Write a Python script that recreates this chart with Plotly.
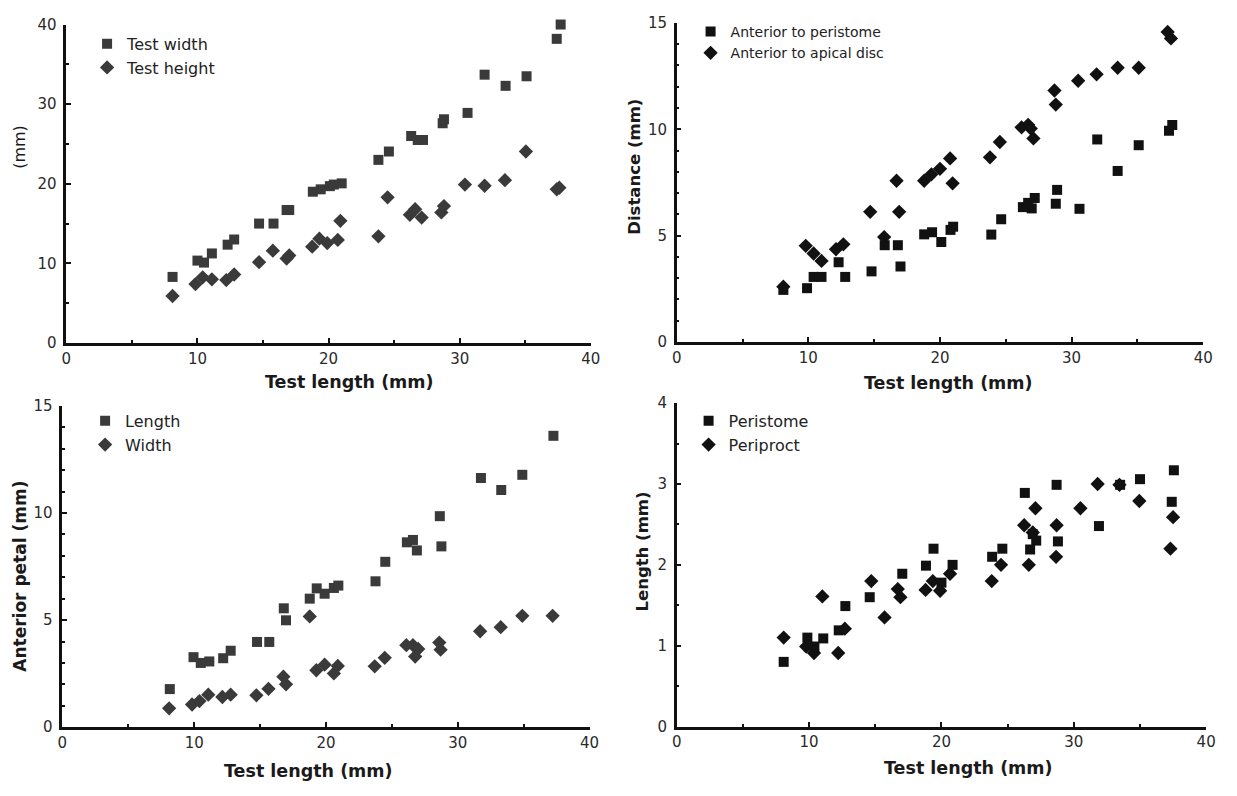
import plotly.graph_objects as go

# ---------------- data ----------------
# Panel A: test width / test height vs test length
tw_x = [8.1, 10.0, 10.5, 11.1, 12.3, 12.8, 14.7, 15.8, 16.8, 17.0, 18.8, 19.4, 20.1, 20.4, 21.0,
        23.8, 24.6, 26.3, 26.8, 27.2, 28.7, 28.8, 30.6, 31.9, 33.5, 35.1, 37.4, 37.7]
tw_y = [8.3, 10.35, 10.1, 11.25, 12.35, 13.0, 15.0, 15.0, 16.7, 16.7, 19.0, 19.3, 19.7, 19.9, 20.05,
        23.0, 24.05, 26.0, 25.5, 25.5, 27.6, 28.1, 28.9, 33.7, 32.3, 33.5, 38.2, 40.0]
th_x = [8.1, 9.85, 10.4, 11.1, 12.2, 12.8, 14.7, 15.75, 16.8, 17.0, 18.75, 19.3, 19.9, 20.7, 20.9,
        23.8, 24.5, 26.2, 26.6, 27.1, 28.6, 28.8, 30.4, 31.9, 33.45, 35.05, 37.4, 37.6]
th_y = [5.9, 7.4, 8.25, 8.0, 7.9, 8.6, 10.15, 11.6, 10.6, 11.0, 12.1, 13.1, 12.55, 12.95, 15.35,
        13.4, 18.3, 16.1, 16.8, 15.75, 16.4, 17.2, 19.9, 19.75, 20.45, 24.05, 19.3, 19.5]

# Panel B: distances
ap_x = [8.1, 9.9, 10.4, 11.0, 12.3, 12.8, 14.8, 15.8, 16.8, 17.0, 18.8, 19.4, 20.1, 20.8, 21.0,
        23.9, 24.65, 26.3, 26.7, 26.97, 27.2, 28.8, 28.9, 30.6, 31.95, 33.5, 35.1, 37.4, 37.65]
ap_y = [2.45, 2.53, 3.06, 3.06, 3.75, 3.06, 3.32, 4.55, 4.55, 3.55, 5.06, 5.16, 4.7, 5.27, 5.42,
        5.05, 5.77, 6.34, 6.54, 6.28, 6.77, 6.5, 7.15, 6.26, 9.52, 8.04, 9.25, 9.93, 10.2]
ad_x = [8.1, 9.8, 10.4, 11.0, 12.1, 12.66, 14.7, 15.76, 16.7, 16.9, 18.8, 19.35, 20.0, 20.77, 20.96,
        23.8, 24.55, 26.2, 26.7, 26.9, 27.1, 28.7, 28.8, 30.5, 31.9, 33.5, 35.1, 37.3, 37.55]
ad_y = [2.6, 4.52, 4.16, 3.81, 4.36, 4.59, 6.12, 4.93, 7.58, 6.12, 7.58, 7.88, 8.14, 8.63, 7.46,
        8.68, 9.4, 10.09, 10.21, 10.03, 9.57, 11.82, 11.16, 12.28, 12.58, 12.89, 12.89, 14.57, 14.27]

# Panel C: anterior petal
pl_x = [8.15, 9.95, 10.5, 11.15, 12.2, 12.77, 14.77, 15.7, 16.8, 16.97, 18.77, 19.3, 19.9, 20.6, 20.94,
        23.76, 24.5, 26.14, 26.6, 26.9, 28.64, 28.76, 31.76, 33.3, 34.9, 37.26]
pl_y = [1.78, 3.27, 3.0, 3.07, 3.22, 3.57, 3.98, 3.98, 5.55, 4.99, 6.0, 6.48, 6.23, 6.5, 6.61,
        6.81, 7.72, 8.63, 8.74, 8.25, 9.85, 8.44, 11.63, 11.07, 11.78, 13.6]
pw_x = [8.1, 9.84, 10.4, 11.07, 12.14, 12.77, 14.72, 15.64, 16.77, 16.97, 18.77, 19.27, 19.9, 20.6, 20.9,
        23.7, 24.46, 26.1, 26.6, 26.77, 27.0, 28.6, 28.7, 31.7, 33.26, 34.9, 37.2]
pw_y = [0.88, 1.06, 1.22, 1.52, 1.41, 1.52, 1.49, 1.79, 2.36, 2.0, 5.17, 2.66, 2.92, 2.51, 2.86,
        2.84, 3.24, 3.83, 3.83, 3.3, 3.65, 3.95, 3.62, 4.48, 4.67, 5.2, 5.2]

# Panel D: peristome / periproct length
ps_x = [8.08, 9.87, 10.4, 11.07, 12.24, 12.74, 14.58, 17.04, 18.83, 19.4, 20.0, 20.84, 23.83, 24.6,
        26.3, 26.7, 26.9, 27.16, 28.7, 28.8, 31.9, 33.5, 35.0, 37.4, 37.56]
ps_y = [0.80, 1.10, 0.99, 1.09, 1.19, 1.49, 1.6, 1.89, 1.99, 2.2, 1.78, 2.0, 2.1, 2.2,
        2.89, 2.19, 2.38, 2.3, 2.99, 2.29, 2.48, 2.99, 3.06, 2.78, 3.17]
pp_x = [8.08, 9.78, 10.37, 11.0, 12.2, 12.7, 14.7, 15.7, 16.7, 16.9, 18.8, 19.35, 19.9, 20.65, 23.8,
        24.5, 26.25, 26.6, 26.9, 27.1, 28.66, 28.7, 30.5, 31.8, 33.45, 34.95, 37.3, 37.5]
pp_y = [1.1, 0.99, 0.91, 1.61, 0.91, 1.21, 1.8, 1.35, 1.7, 1.6, 1.69, 1.8, 1.68, 1.89, 1.8,
        2.0, 2.49, 2.0, 2.4, 2.7, 2.1, 2.49, 2.7, 3.0, 2.99, 2.79, 2.2, 2.59]

x_title = "Test length (mm)"

# ---------------- figure ----------------
# The page body keeps its default 8px margin, so the figure is sized to fill
# the 1237x796 window exactly once that margin is added.
PAGE_W, PAGE_H, OFF = 1237, 796, 8
W, H = PAGE_W - 2 * OFF, PAGE_H - 2 * OFF
FONT = "DejaVu Sans"
GRAY = "#3a3a3a"
BLACK = "#111111"

fig = go.Figure()

def add(x, y, name, symbol, color, ax, leg):
    fig.add_trace(go.Scatter(
        x=x, y=y, mode="markers", name=name, cliponaxis=False,
        marker=dict(symbol=symbol, size=10 if symbol == "square" else 11, color=color,
                    line=dict(width=0)),
        xaxis="x" + ax, yaxis="y" + ax, legend=leg, showlegend=True))

add(tw_x, tw_y, "Test width", "square", GRAY, "", "legend")
add(th_x, th_y, "Test height", "diamond", GRAY, "", "legend")
add(ap_x, ap_y, "Anterior to peristome", "square", BLACK, "2", "legend2")
add(ad_x, ad_y, "Anterior to apical disc", "diamond", BLACK, "2", "legend2")
add(pl_x, pl_y, "Length", "square", GRAY, "3", "legend3")
add(pw_x, pw_y, "Width", "diamond", GRAY, "3", "legend3")
add(ps_x, ps_y, "Peristome", "square", BLACK, "4", "legend4")
add(pp_x, pp_y, "Periproct", "diamond", BLACK, "4", "legend4")

# page pixel -> paper fraction
def px(v):
    return (v - OFF) / W

def py(v):
    return 1 - (v - OFF) / H

tickfont = dict(family=FONT, size=15, color="#2a2a2a")

def xaxis(dom, anchor):
    return dict(domain=dom, anchor=anchor, range=[0, 40], tickvals=[0, 10, 20, 30, 40],
                showline=True, linewidth=2.5, linecolor="#111", mirror=False,
                ticks="inside", ticklen=5, tickwidth=2, tickcolor="#111",
                minor=dict(dtick=5, ticks="inside", ticklen=3, tickwidth=2, tickcolor="#111"),
                showgrid=False, zeroline=False, tickfont=tickfont, ticklabelstandoff=0,
                fixedrange=True)

def yaxis(dom, anchor, rng, dtick, mdtick):
    return dict(domain=dom, anchor=anchor, range=rng, dtick=dtick, tick0=0,
                showline=True, linewidth=2.5, linecolor="#111",
                ticks="inside", ticklen=5, tickwidth=2, tickcolor="#111",
                minor=dict(dtick=mdtick, ticks="inside", ticklen=3, tickwidth=2, tickcolor="#111"),
                showgrid=False, zeroline=False, tickfont=tickfont, ticklabelstandoff=4,
                fixedrange=True)

layout = dict(
    width=W, height=H, margin=dict(l=0, r=0, t=0, b=0),
    paper_bgcolor="white", plot_bgcolor="white",
    font=dict(family=FONT, color="#222"),
    xaxis=xaxis([px(62), px(593)], "y"),
    yaxis=yaxis([py(341.7), py(15.7)], "x", [0, 40], 10, 5),
    xaxis2=xaxis([px(680), px(1213)], "y2"),
    yaxis2=yaxis([py(340.7), py(14)], "x2", [0, 15], 5, 1),
    xaxis3=xaxis([px(58), px(591.7)], "y3"),
    yaxis3=yaxis([py(735), py(406)], "x3", [0, 15], 5, 1),
    xaxis4=xaxis([px(680), px(1216)], "y4"),
    yaxis4=yaxis([py(734.3), py(403.3)], "x4", [0, 4], 1, 0.5),
)

def legend(x, y, size):
    return dict(x=px(x), y=py(y), xanchor="left", yanchor="top", bgcolor="rgba(0,0,0,0)",
                font=dict(family=FONT, size=size, color="#222"), tracegroupgap=0,
                itemclick=False, itemdoubleclick=False)

layout["legend"] = legend(83, 18, 16)
layout["legend2"] = legend(694, 7, 14)
layout["legend3"] = legend(81, 404, 16)
layout["legend4"] = legend(692, 404, 16)

fig.update_layout(**layout)

ann = []
def title(text, x, y, angle=0, bold=True, size=17.5):
    t = "<b>%s</b>" % text if bold else text
    ann.append(dict(text=t, x=px(x), y=py(y), xref="paper", yref="paper", showarrow=False,
                    textangle=angle, xanchor="center", yanchor="middle",
                    font=dict(family=FONT, size=size, color="#1a1a1a")))

title(x_title, 349, 382)
title(x_title, 955, 383)
title(x_title, 307, 780)
title(x_title, 975, 777)
title("(mm)", 15, 141, angle=-90, bold=False, size=16)
title("Distance (mm)", 637, 161, angle=-90, size=16.5)
title("Anterior petal (mm)", 15, 580, angle=-90, size=17)
title("Length (mm)", 645, 555, angle=-90, size=16.5)

fig.update_layout(annotations=ann)

fig.write_html("out.html", config={"displayModeBar": False})
